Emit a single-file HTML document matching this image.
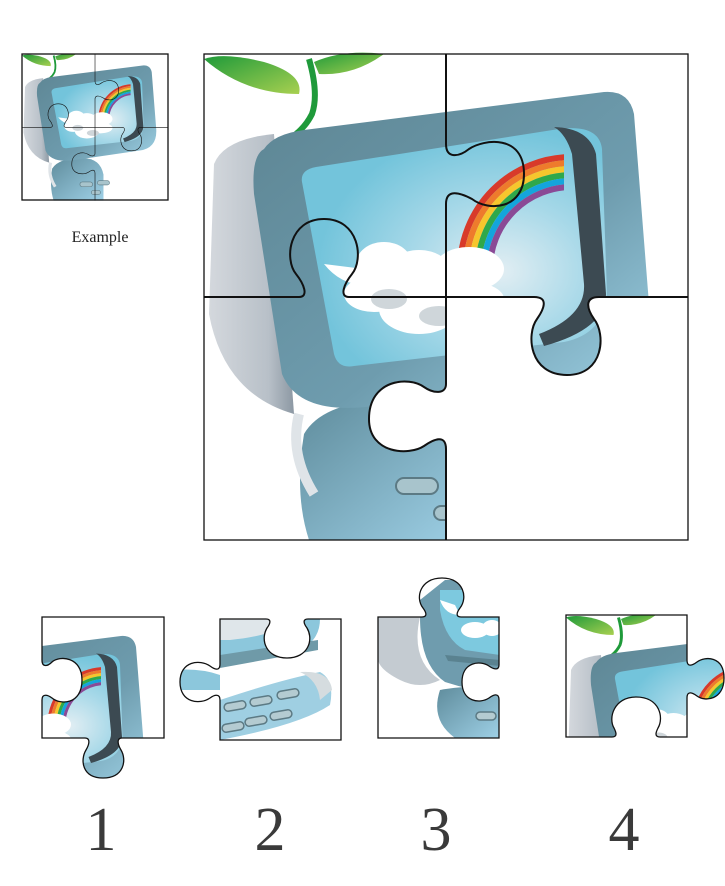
<!DOCTYPE html>
<html><head><style>
html,body{margin:0;padding:0;background:#fff;width:725px;height:886px;overflow:hidden}
</style></head><body>
<svg width="725" height="886" viewBox="0 0 725 886" xmlns="http://www.w3.org/2000/svg">
<defs>
<linearGradient id="shadowG" x1="0" y1="0" x2="1" y2="0">
<stop offset="0" stop-color="#d4d8dd"/><stop offset="0.7" stop-color="#b8c0c8"/><stop offset="1" stop-color="#8c98a3"/></linearGradient>
<linearGradient id="bodyG" x1="0" y1="0" x2="1" y2="1">
<stop offset="0" stop-color="#5d8593"/><stop offset="0.6" stop-color="#6e9cae"/><stop offset="1" stop-color="#9fd2e6"/></linearGradient>
<radialGradient id="scrG" cx="0.65" cy="0.6" r="0.6">
<stop offset="0" stop-color="#e2eef3"/><stop offset="0.5" stop-color="#a6d8e8"/><stop offset="1" stop-color="#73c4db"/></radialGradient>
<linearGradient id="kbG" x1="0" y1="0" x2="1" y2="1">
<stop offset="0" stop-color="#5f8c9c"/><stop offset="1" stop-color="#9ed0e6"/></linearGradient>
<linearGradient id="leafG" x1="0" y1="0" x2="1" y2="1">
<stop offset="0" stop-color="#1f9a3a"/><stop offset="1" stop-color="#a8d050"/></linearGradient>
<clipPath id="rbClip"><rect x="200" y="90" width="160" height="120"/></clipPath>
<g id="art">
  <path d="M0,5 Q40,40 95,40 Q100,20 60,8 Q20,-2 0,5Z" fill="url(#leafG)"/>
  <path d="M110,8 Q140,-5 180,0 Q150,22 115,20Z" fill="url(#leafG)"/>
  <path d="M105,5 Q115,40 108,60 Q102,72 92,80" stroke="#1f9a3a" stroke-width="6" fill="none"/>
  <path d="M100,380 Q120,345 200,345 Q260,345 270,400 L270,486 L105,486 Q90,440 100,380Z" fill="url(#kbG)"/>
  <path d="M95,360 Q85,400 110,440" stroke="#dfe4e8" stroke-width="10" fill="none"/>
  <g fill="#a8c4cc" stroke="#5c7a84" stroke-width="2">
    <rect x="192" y="424" width="42" height="16" rx="8"/>
    <rect x="230" y="452" width="30" height="14" rx="7"/>
    <rect x="250" y="420" width="40" height="14" rx="7"/>
  </g>
  <path d="M10,110 Q20,85 70,80 L90,360 Q20,340 5,260Z" fill="url(#shadowG)"/>
  <path d="M60,95 Q70,80 100,76 L400,38 Q425,36 430,60 L445,250 Q448,312 390,320 L170,352 Q95,362 78,320 L50,140 Q47,102 60,95Z" fill="url(#bodyG)"/>
  <path d="M98,128 Q96,116 112,113 L355,75 Q395,70 398,95 L403,240 Q400,280 360,288 L150,312 Q134,315 130,300Z" fill="url(#scrG)"/>
  <g clip-path="url(#rbClip)" fill="none" stroke-width="6">
    <circle cx="368" cy="215" r="112" stroke="#d83a2a"/>
    <circle cx="368" cy="215" r="106" stroke="#ee7b2c"/>
    <circle cx="368" cy="215" r="100" stroke="#f6c62d"/>
    <circle cx="368" cy="215" r="94" stroke="#2fa84a"/>
    <circle cx="368" cy="215" r="88" stroke="#14a5dc"/>
    <circle cx="368" cy="215" r="82" stroke="#8a4a96"/>
  </g>
  <path d="M350,73 Q385,74 392,100 L402,240 Q402,275 340,292 L335,280 Q382,262 380,230 L368,100 Q362,80 350,73Z" fill="#3c4a52"/>
  <g fill="#fff">
    <ellipse cx="180" cy="210" rx="28" ry="22"/><ellipse cx="215" cy="218" rx="32" ry="22"/>
    <ellipse cx="265" cy="215" rx="35" ry="22"/><ellipse cx="170" cy="240" rx="30" ry="18"/>
    <ellipse cx="215" cy="255" rx="40" ry="25"/><ellipse cx="260" cy="245" rx="40" ry="18"/>
    <path d="M120,210 Q140,235 170,230 L160,215Z"/>
  </g>
  <g fill="#cfd6da"><ellipse cx="185" cy="245" rx="18" ry="10"/><ellipse cx="235" cy="262" rx="20" ry="10"/></g>
</g>
<g id="lines" fill="none" stroke="#111" stroke-width="2">
  <path d="M0,243 L95,243 C105,243 100,230 92,220 C80,205 85,165 120,165 C155,165 160,205 148,220 C140,230 135,243 145,243 L330,243 C345,243 340,255 333,265 C322,280 325,321 363,321 C400,321 402,280 390,265 C383,255 380,243 395,243 L484,243"/>
  <path d="M242,0 L242,90 C242,105 255,103 265,95 C280,85 320,80 320,120 C320,155 285,158 268,145 C255,138 242,135 242,150 L242,330 C242,340 230,340 220,333 C205,322 165,325 165,365 C165,400 205,402 220,392 C230,385 242,380 242,395 L242,486"/>
</g>
<clipPath id="c1"><path id="p1" d="M42,617 L164,617 L164,738 L122,738 C116,738 118,745 121,750 C127,760 124,778 103,778 C82,778 80,760 86,750 C89,745 91,738 85,738 L42,738 L42,700 C42,693 48,695 52,698 C60,705 82,705 82,680 C82,657 60,655 52,662 C48,666 42,668 42,660 Z"/></clipPath>
<clipPath id="c2"><path id="p2" d="M220,619 L266,619 C272,619 270,624 267,628 C260,640 266,658 287,658 C308,658 314,640 307,628 C304,624 302,619 308,619 L341,619 L341,740 L220,740 L220,700 C220,693 214,695 210,698 C200,705 180,703 180,682 C180,661 200,659 210,666 C214,669 220,672 220,664 Z"/></clipPath>
<clipPath id="c3"><path id="p3" d="M422,617 C428,617 426,612 423,608 C415,598 420,578 442,578 C464,578 468,598 460,608 C457,612 455,617 461,617 L499,617 L499,665 C499,671 493,669 489,666 C480,660 462,662 462,682 C462,702 480,704 489,698 C493,695 499,692 499,700 L499,738 L378,738 L378,617 Z"/></clipPath>
<clipPath id="c4"><path id="p4" d="M566,615 L687,615 L687,660 C687,668 693,665 697,662 C705,656 724,656 724,678 C724,700 705,702 697,696 C693,693 687,690 687,698 L687,737 L660,737 C654,737 656,732 658,728 C664,718 660,697 636,697 C614,697 608,718 614,728 C616,732 618,737 612,737 L566,737 Z"/></clipPath>
</defs>

<g transform="translate(22,54) scale(0.3017)">
  <use href="#art"/>
  <use href="#lines" stroke-width="4"/>
</g>
<rect x="22" y="54" width="146" height="146" fill="none" stroke="#111" stroke-width="1.3"/>
<text x="100" y="242" font-family="Liberation Serif, serif" font-size="16" text-anchor="middle" fill="#222">Example</text>

<g transform="translate(204,54)">
  <use href="#art"/>
  <path d="M242,243 L330,243 C345,243 340,255 333,265 C322,280 325,321 363,321 C400,321 402,280 390,265 C383,255 380,243 395,243 L484,243 L484,486 L242,486 L242,395 C242,380 230,385 220,392 C205,402 165,400 165,365 C165,325 205,322 220,333 C230,340 242,340 242,330 Z" fill="#fff"/>
  <use href="#lines"/>
</g>
<rect x="204" y="54" width="484" height="486" fill="none" stroke="#111" stroke-width="1.3"/>

<!-- piece 1 -->
<g clip-path="url(#c1)"><use href="#art" transform="translate(-79,617) scale(0.5)"/></g>
<use href="#p1" fill="none" stroke="#111" stroke-width="1.3"/>
<!-- piece 2 custom -->
<g clip-path="url(#c2)">
  <path d="M220,619 L320,619 Q320,640 300,650 L220,665 Z" fill="#8cc7dc"/>
  <path d="M220,619 L290,619 Q280,635 230,640 L220,640Z" fill="#dfe6ea"/>
  <path d="M220,655 L318,640 L318,650 L220,668Z" fill="#6f9aa8"/>
  <path d="M175,670 Q200,668 220,675 L220,690 Q195,690 175,690Z" fill="#8cc7dc"/>
  <path d="M220,700 Q280,680 320,672 Q335,680 330,705 Q300,725 220,740Z" fill="#9fcfe2"/>
  <path d="M300,672 Q330,670 332,690 L320,700 Q318,680 300,672Z" fill="#d5dcdf"/>
  <g fill="#b4cbd1" stroke="#5c7a84" stroke-width="1.5">
    <rect x="224" y="702" width="22" height="8" rx="4" transform="rotate(-10 235 706)"/>
    <rect x="250" y="697" width="22" height="8" rx="4" transform="rotate(-10 261 701)"/>
    <rect x="277" y="690" width="22" height="8" rx="4" transform="rotate(-10 288 694)"/>
    <rect x="222" y="723" width="22" height="8" rx="4" transform="rotate(-10 233 727)"/>
    <rect x="245" y="717" width="22" height="8" rx="4" transform="rotate(-10 256 721)"/>
    <rect x="270" y="711" width="22" height="8" rx="4" transform="rotate(-10 281 715)"/>
  </g>
</g>
<use href="#p2" fill="none" stroke="#111" stroke-width="1.3"/>
<!-- piece 3 custom -->
<g clip-path="url(#c3)">
  <path d="M378,617 L420,617 Q410,660 440,680 Q420,690 400,680 Q380,670 378,660Z" fill="#c4cbd1"/>
  <path d="M420,600 L445,580 L500,580 L500,695 Q470,690 445,682 Q420,665 420,617Z" fill="#6f9cae"/>
  <path d="M440,590 L470,590 L500,600 L500,655 L465,650 Q445,640 440,610Z" fill="#7dc9df"/>
  <g fill="#fff"><ellipse cx="475" cy="630" rx="14" ry="8"/><ellipse cx="492" cy="628" rx="10" ry="8"/><path d="M440,600 Q445,615 460,615 L455,605Z"/></g>
  <path d="M445,655 L500,660 L500,666 L448,661Z" fill="#5a8290"/>
  <path d="M440,690 Q500,680 500,700 L500,738 L455,738 Q430,720 440,690Z" fill="url(#kbG)"/>
  <rect x="476" y="712" width="20" height="8" rx="4" fill="#b4cbd1" stroke="#5c7a84" stroke-width="1.5"/>
</g>
<use href="#p3" fill="none" stroke="#111" stroke-width="1.3"/>
<!-- piece 4 -->
<g clip-path="url(#c4)"><use href="#art" transform="translate(566,615) scale(0.5)"/></g>
<use href="#p4" fill="none" stroke="#111" stroke-width="1.3"/>

<g font-family="Liberation Serif, serif" font-size="62" fill="#3a3a3a" text-anchor="middle">
<text x="101" y="850">1</text><text x="270" y="850">2</text><text x="436" y="850">3</text><text x="624" y="850">4</text>
</g>
</svg>
</body></html>
